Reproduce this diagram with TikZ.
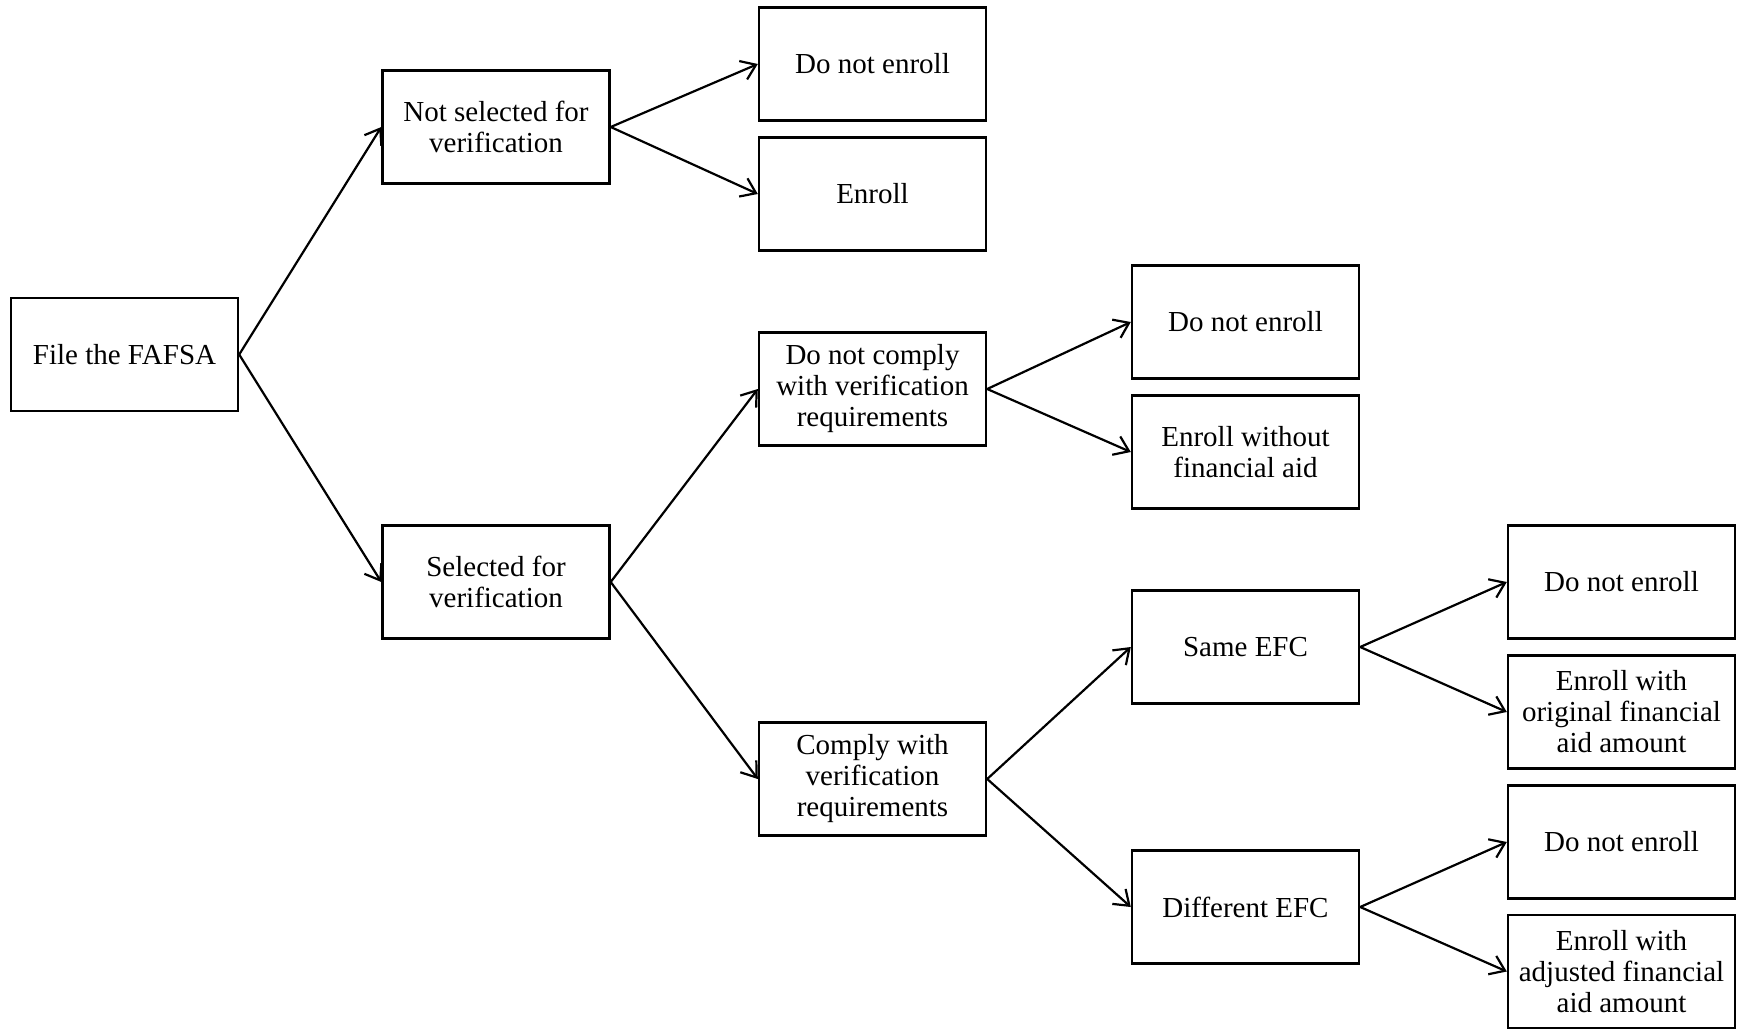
\documentclass[tikz,border=0pt]{standalone}
\usepackage{fontspec}
\setmainfont{Liberation Serif}
\usetikzlibrary{arrows.meta}
\begin{document}
\begin{tikzpicture}[x=0.5pt,y=-0.5pt,
  box/.style={draw, line width=1.2pt, minimum width=113.5pt, minimum height=56.5pt, inner sep=0pt, align=center, font=\fontsize{14.5}{15.5}\selectfont},
  arr/.style={line width=1.1pt, -{Straight Barb[length=7pt,width=10pt,line width=1.1pt]}}]
\useasboundingbox (0,0) rectangle (1737,1029);
\node[box] (fafsa) at (124.5,354.5) {File the FAFSA};
\node[box] (nsel) at (496,127) {Not selected for\\verification};
\node[box] (sel) at (496,582) {Selected for\\verification};
\node[box] (dne1) at (872.5,64) {Do not enroll};
\node[box] (enr) at (872.5,194) {Enroll};
\node[box] (nocomp) at (872.5,389) {Do not comply\\with verification\\requirements};
\node[box] (comp) at (872.5,779) {Comply with\\verification\\requirements};
\node[box] (dne2) at (1245.5,322) {Do not enroll};
\node[box] (enrno) at (1245.5,452) {Enroll without\\financial aid};
\node[box] (same) at (1245.5,647) {Same EFC};
\node[box] (diff) at (1245.5,907) {Different EFC};
\node[box] (dne3) at (1621.5,582) {Do not enroll};
\node[box] (enrorig) at (1621.5,712) {Enroll with\\original financial\\aid amount};
\node[box] (dne4) at (1621.5,842) {Do not enroll};
\node[box] (enradj) at (1621.5,971.5) {Enroll with\\adjusted financial\\aid amount};
\draw[arr] (fafsa.east) -- (nsel.west);
\draw[arr] (fafsa.east) -- (sel.west);
\draw[arr] (nsel.east) -- (dne1.west);
\draw[arr] (nsel.east) -- (enr.west);
\draw[arr] (sel.east) -- (nocomp.west);
\draw[arr] (sel.east) -- (comp.west);
\draw[arr] (nocomp.east) -- (dne2.west);
\draw[arr] (nocomp.east) -- (enrno.west);
\draw[arr] (comp.east) -- (same.west);
\draw[arr] (comp.east) -- (diff.west);
\draw[arr] (same.east) -- (dne3.west);
\draw[arr] (same.east) -- (enrorig.west);
\draw[arr] (diff.east) -- (dne4.west);
\draw[arr] (diff.east) -- (enradj.west);
\end{tikzpicture}
\end{document}
